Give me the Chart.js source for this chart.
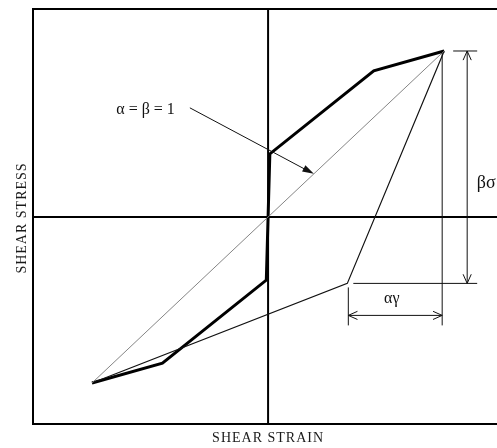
<!DOCTYPE html>
<html>
<head>
<meta charset="utf-8">
<script src="https://cdn.jsdelivr.net/npm/chart.js@4/dist/chart.umd.min.js"></script>
<style>
  html, body { margin: 0; padding: 0; background: #fff; overflow: hidden; }
  #wrap { width: 497px; height: 448px; }
</style>
</head>
<body>
<div id="wrap"><canvas id="loopChart"></canvas></div>
<script>
// Hysteresis loop: normalised shear strain / shear stress
const loadStrain   = [-1.00, -0.60, -0.01, 0.01, 0.60, 1.00];
const loadStress   = [-1.00, -0.88, -0.38, 0.38, 0.88, 1.00];
const unloadStrain = [1.00, 0.45, -1.00];
const unloadStress = [1.00, -0.40, -1.00];
const secantStrain = [-1.00, 1.00];
const secantStress = [-1.00, 1.00];

const X_TITLE = 'SHEAR STRAIN';
const Y_TITLE = 'SHEAR STRESS';
const LOOP_LABEL = 'α = β = 1';
const STRAIN_LABEL = 'αγ';
const STRESS_LABEL = 'βσ';
const LEADER_AT = 0.26; // where the label arrow meets the secant

const SERIF = '"Liberation Serif", "Times New Roman", serif';
const toPoints = (xs, ys) => xs.map((x, i) => ({ x, y: ys[i] }));

function line(ctx, x1, y1, x2, y2) {
  ctx.beginPath();
  ctx.moveTo(x1, y1);
  ctx.lineTo(x2, y2);
  ctx.stroke();
}

// open "V" head for dimension arrows
function openHead(ctx, tx, ty, fx, fy, len = 10, spread = 0.42) {
  const a = Math.atan2(ty - fy, tx - fx);
  ctx.beginPath();
  ctx.moveTo(tx - len * Math.cos(a - spread), ty - len * Math.sin(a - spread));
  ctx.lineTo(tx, ty);
  ctx.lineTo(tx - len * Math.cos(a + spread), ty - len * Math.sin(a + spread));
  ctx.stroke();
}

function filledHead(ctx, tx, ty, fx, fy, len = 12, spread = 0.3) {
  const a = Math.atan2(ty - fy, tx - fx);
  ctx.beginPath();
  ctx.moveTo(tx, ty);
  ctx.lineTo(tx - len * Math.cos(a - spread), ty - len * Math.sin(a - spread));
  ctx.lineTo(tx - len * Math.cos(a + spread), ty - len * Math.sin(a + spread));
  ctx.closePath();
  ctx.fill();
}

const framePlugin = {
  id: 'frame',
  beforeDatasetsDraw(chart) {
    const { ctx, chartArea: a, scales: { x, y } } = chart;
    const x0 = x.getPixelForValue(0), y0 = y.getPixelForValue(0);
    ctx.save();
    ctx.strokeStyle = '#000';
    ctx.lineWidth = 2;
    ctx.beginPath();
    ctx.moveTo(a.right + 2, a.top);
    ctx.lineTo(a.left, a.top);
    ctx.lineTo(a.left, a.bottom);
    ctx.lineTo(a.right + 2, a.bottom);
    ctx.stroke();
    line(ctx, x0, a.top, x0, a.bottom);
    line(ctx, a.left, y0, a.right + 2, y0);

    ctx.fillStyle = '#1a1a1a';
    ctx.font = '14px ' + SERIF;
    ctx.textAlign = 'center';
    ctx.textBaseline = 'middle';
    ctx.letterSpacing = '1px';
    ctx.fillText(X_TITLE, x0, a.bottom + 14);
    ctx.translate(a.left - 11, y0 + 1);
    ctx.rotate(-Math.PI / 2);
    ctx.fillText(Y_TITLE, 0, 0);
    ctx.restore();
  },
  afterDatasetsDraw(chart) {
    const { ctx, scales: { x, y } } = chart;
    const px = x.getPixelForValue(unloadStrain[0]), py = y.getPixelForValue(unloadStress[0]);
    const kx = x.getPixelForValue(unloadStrain[1]), ky = y.getPixelForValue(unloadStress[1]);
    ctx.save();
    ctx.strokeStyle = '#111';
    ctx.fillStyle = '#111';
    ctx.lineWidth = 1;

    // stress amplitude dimension
    const ex = px - 2;
    const bx = px + 23;
    const dimY = ky + 32;
    line(ctx, ex, py + 2, ex, dimY + 10);
    line(ctx, px + 9, py, px + 33, py);
    line(ctx, kx + 6, ky, px + 33, ky);
    line(ctx, bx, py, bx, ky);
    openHead(ctx, bx, py, bx, ky);
    openHead(ctx, bx, ky, bx, py);

    // strain amplitude dimension
    line(ctx, kx + 1, ky + 4, kx + 1, dimY + 10);
    line(ctx, kx + 1, dimY, ex, dimY);
    openHead(ctx, kx + 1, dimY, ex, dimY);
    openHead(ctx, ex, dimY, kx + 1, dimY);

    ctx.textAlign = 'center';
    ctx.textBaseline = 'middle';
    ctx.font = '16px ' + SERIF;
    ctx.fillText(STRAIN_LABEL, (kx + ex) / 2 - 3, ky + 15);
    ctx.font = '18px ' + SERIF;
    ctx.fillText(STRESS_LABEL, bx + 19, (py + ky) / 2 + 16);

    // label with leader to the secant
    const tx = x.getPixelForValue(LEADER_AT), ty = y.getPixelForValue(LEADER_AT);
    const sx = tx - 124, sy = ty - 66;
    line(ctx, sx, sy, tx - 4, ty - 2);
    filledHead(ctx, tx, ty, sx, sy);
    ctx.font = '16px ' + SERIF;
    ctx.textAlign = 'right';
    ctx.fillText(LOOP_LABEL, sx - 15, sy + 2);
    ctx.restore();
  }
};

new Chart(document.getElementById('loopChart'), {
  type: 'scatter',
  data: {
    datasets: [
      { label: 'secant', data: toPoints(secantStrain, secantStress),
        showLine: true, borderColor: '#777', borderWidth: 0.9, pointRadius: 0 },
      { label: 'unloading', data: toPoints(unloadStrain, unloadStress),
        showLine: true, borderColor: '#111', borderWidth: 1.2, pointRadius: 0 },
      { label: 'loading', data: toPoints(loadStrain, loadStress),
        showLine: true, borderColor: '#000', borderWidth: 3, pointRadius: 0,
        borderJoinStyle: 'miter' },
    ]
  },
  options: {
    responsive: true,
    maintainAspectRatio: false,
    animation: false,
    layout: { padding: { left: 33, top: 9, right: 0, bottom: 24 } },
    plugins: { legend: { display: false }, tooltip: { enabled: false } },
    scales: {
      x: { type: 'linear', min: -1.335, max: 1.30, display: false },
      y: { type: 'linear', min: -1.247, max: 1.253, display: false },
    }
  },
  plugins: [framePlugin]
});
</script>
</body>
</html>
